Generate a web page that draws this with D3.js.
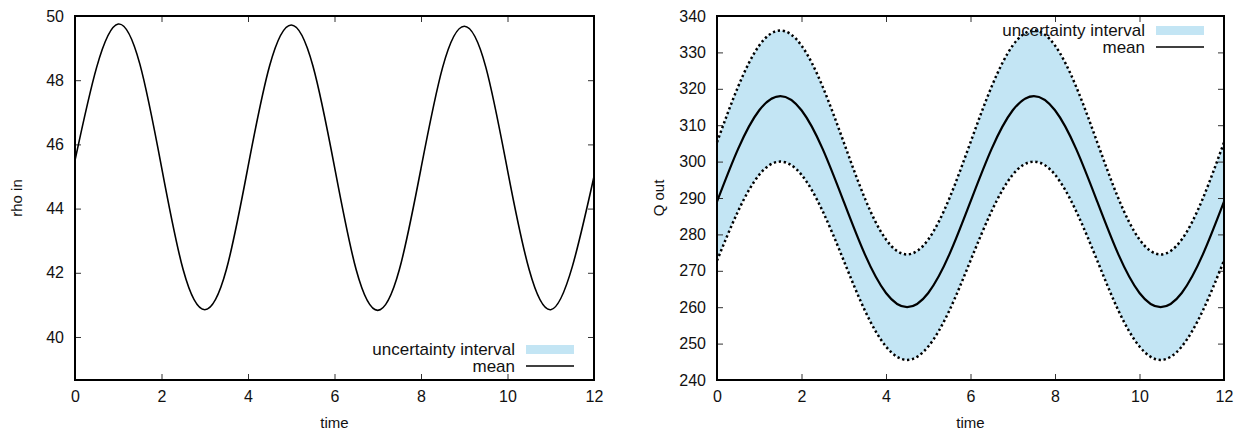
<!DOCTYPE html>
<html>
<head>
<meta charset="utf-8">
<script src="https://cdn.jsdelivr.net/npm/d3@7"></script>
<style>
body { margin: 0; background: #fff; }
svg text { font-family: "Liberation Sans", Arial, sans-serif; fill: #111; }
</style>
</head>
<body>
<div id="chart-area"></div>
<script>
var time = [0, 0.5, 1, 1.5, 2, 2.5, 3, 3.5, 4, 4.5, 5, 5.5, 6, 6.5, 7, 7.5, 8, 8.5, 9, 9.5, 10, 10.5, 11, 11.5, 12];

var rhoMean = [45.5, 48.4, 49.75, 48.5, 45.3, 42.1, 40.85, 42.1, 45.3, 48.45, 49.72, 48.45, 45.3,
               42.1, 40.83, 42.1, 45.25, 48.4, 49.68, 48.4, 45.2, 42.1, 40.85, 42.2, 45.0];

var qMean  = [289, 303.5, 314.1, 318, 314.1, 303.5, 289, 274.5, 263.9, 260, 263.9, 274.5, 289,
              303.5, 314.1, 318, 314.1, 303.5, 289, 274.5, 263.9, 260, 263.9, 274.5, 289];
var qUpper = [305.3, 320.6, 331.9, 336, 331.9, 320.6, 305.3, 289.9, 278.6, 274.5, 278.6, 289.9, 305.3,
              320.6, 331.9, 336, 331.9, 320.6, 305.3, 289.9, 278.6, 274.5, 278.6, 289.9, 305.3];
var qLower = [272.8, 286.4, 296.4, 300, 296.4, 286.4, 272.8, 259.1, 249.2, 245.5, 249.2, 259.1, 272.8,
              286.4, 296.4, 300, 296.4, 286.4, 272.8, 259.1, 249.2, 245.5, 249.2, 259.1, 272.8];

var xTicks = [0, 2, 4, 6, 8, 10, 12];
var rhoTicks = [40, 42, 44, 46, 48, 50];
var qTicks = [240, 250, 260, 270, 280, 290, 300, 310, 320, 330, 340];

var legendLabels = ["uncertainty interval", "mean"];
var bandColor = "#c3e5f4";

var svg = d3.select("#chart-area").append("svg")
    .attr("width", 1249)
    .attr("height", 433);

function panel(opt) {
    var x = d3.scaleLinear().domain([0, 12]).range([opt.left, opt.right]);
    var y = d3.scaleLinear().domain(opt.yDomain).range([380, 16]);
    var g = svg.append("g");

    var line = d3.line().curve(d3.curveNatural)
        .x(function(d, i) { return x(time[i]); })
        .y(function(d) { return y(d); });

    if (opt.upper) {
        var area = d3.area().curve(d3.curveNatural)
            .x(function(d, i) { return x(time[i]); })
            .y0(function(d, i) { return y(opt.lower[i]); })
            .y1(function(d) { return y(d); });
        g.append("path").attr("d", area(opt.upper)).attr("fill", bandColor);
    }

    // axes with inward ticks on all four sides
    var axB = g.append("g").attr("transform", "translate(0,380)")
        .call(d3.axisBottom(x).tickValues(xTicks).tickSizeInner(-6).tickSizeOuter(0).tickPadding(11));
    var axT = g.append("g").attr("transform", "translate(0,16)")
        .call(d3.axisTop(x).tickValues(xTicks).tickSizeInner(-6).tickSizeOuter(0).tickFormat(""));
    var axL = g.append("g").attr("transform", "translate(" + opt.left + ",0)")
        .call(d3.axisLeft(y).tickValues(opt.yTicks).tickSizeInner(-6).tickSizeOuter(0).tickPadding(11));
    var axR = g.append("g").attr("transform", "translate(" + opt.right + ",0)")
        .call(d3.axisRight(y).tickValues(opt.yTicks).tickSizeInner(-6).tickSizeOuter(0).tickFormat(""));

    [axB, axT, axL, axR].forEach(function(a) {
        a.select(".domain").remove();
        a.selectAll("line").attr("stroke", "#333").attr("stroke-width", 1);
        a.selectAll("text").attr("font-size", "16px")
            .attr("font-family", "Liberation Sans, Arial, sans-serif").attr("fill", "#111");
    });

    if (opt.upper) {
        [opt.upper, opt.lower].forEach(function(s) {
            g.append("path").attr("d", line(s))
                .attr("fill", "none").attr("stroke", "#000")
                .attr("stroke-width", 2.5).attr("stroke-dasharray", "2.3,2.7");
        });
    }

    g.append("path").attr("d", line(opt.mean))
        .attr("fill", "none").attr("stroke", "#000")
        .attr("stroke-width", opt.meanWidth);

    g.append("rect")
        .attr("x", opt.left).attr("y", 16)
        .attr("width", opt.right - opt.left).attr("height", 364)
        .attr("fill", "none").attr("stroke", "#000").attr("stroke-width", 2);

    // axis titles
    g.append("text")
        .attr("x", (opt.left + opt.right) / 2).attr("y", 428)
        .attr("text-anchor", "middle").attr("font-size", "15px")
        .text("time");
    g.append("text")
        .attr("transform", "translate(" + opt.yLabelX + ",198) rotate(-90)")
        .attr("text-anchor", "middle").attr("font-size", "15px")
        .text(opt.yLabel);

    // legend
    var lg = g.append("g").attr("transform", "translate(" + (opt.right - 20) + "," + opt.legendY + ")");
    legendLabels.forEach(function(lab, i) {
        var row = lg.append("g").attr("transform", "translate(0," + (i * 17) + ")");
        row.append("text").attr("x", -59).attr("y", 5.5)
            .attr("text-anchor", "end").attr("font-size", "17px").text(lab);
        if (i === 0) {
            row.append("rect").attr("x", -48).attr("y", -4)
                .attr("width", 48).attr("height", 9).attr("fill", bandColor);
        } else {
            row.append("line").attr("x1", -48).attr("x2", 0)
                .attr("stroke", "#000").attr("stroke-width", 1.5);
        }
    });
}

panel({
    left: 75, right: 594,
    yDomain: [38.66, 50], yTicks: rhoTicks,
    mean: rhoMean, meanWidth: 1.6,
    yLabel: "rho in", yLabelX: 22, legendY: 349
});

panel({
    left: 717, right: 1224,
    yDomain: [240, 340], yTicks: qTicks,
    mean: qMean, upper: qUpper, lower: qLower, meanWidth: 2.2,
    yLabel: "Q out", yLabelX: 664, legendY: 30
});
</script>
</body>
</html>
